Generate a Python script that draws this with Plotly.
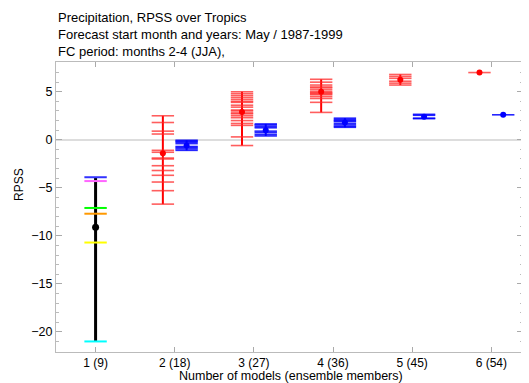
import plotly.graph_objects as go

# ---- data ----
n_models = [1, 2, 3, 4, 5, 6]
tick_labels = ["1 (9)", "2 (18)", "3 (27)", "4 (36)", "5 (45)", "6 (54)"]

# single models (1 model, 9 members)
single_vals = [-3.9, -4.3, -7.1, -7.7, -10.7, -21.0]
single_colors = ["#3333ff", "#ff66ff", "#00ff00", "#ff9900", "#ffff00", "#00ffff"]
single_mean = -9.1

# multi-model combinations (red)
red_vals = {
    2: [2.5, 1.8, 0.9, 0.6, -1.1, -1.3, -1.9, -2.0, -2.7, -3.2, -3.7, -4.4, -5.3, -6.7],
    3: [5.0, 4.8, 4.6, 4.4, 4.2, 4.0, 3.9, 3.6, 3.4, 3.1, 3.0, 2.8, 2.7, 2.5, 2.3, 2.0, 1.7, 1.5, 0.3, -0.6],
    4: [6.3, 6.0, 5.7, 5.5, 5.4, 5.2, 5.0, 4.9, 4.8, 4.7, 4.5, 4.3, 3.9, 2.85],
    5: [6.8, 6.6, 6.4, 6.1, 5.9, 5.7],
    6: [7.0],
}
red_mean = {2: -1.4, 3: 2.9, 4: 5.0, 5: 6.25, 6: 7.0}

# single model with same ensemble size (blue)
blue_vals = {
    2: [-0.05, -0.15, -0.25, -0.4, -0.7, -0.8, -0.95, -1.1],
    3: [1.65, 1.55, 1.4, 1.25, 0.9, 0.75, 0.55, 0.4],
    4: [2.25, 2.1, 2.0, 1.9, 1.7, 1.55, 1.4, 1.3],
    5: [2.65, 2.55, 2.25, 2.2],
    6: [2.6],
}
blue_mean = {2: -0.6, 3: 1.0, 4: 1.8, 5: 2.4, 6: 2.6}

RED_OFF = -0.15
BLUE_OFF = 0.15

fig = go.Figure()

# black: single models
fig.add_trace(go.Scatter(x=[1, 1], y=[min(single_vals), max(single_vals)], mode="lines",
                         line=dict(color="black", width=3), hoverinfo="skip", showlegend=False))
fig.add_trace(go.Scatter(x=[1] * len(single_vals), y=single_vals, mode="markers",
                         marker=dict(symbol="line-ew", size=16,
                                     line=dict(color=single_colors, width=2)),
                         showlegend=False))
fig.add_trace(go.Scatter(x=[1], y=[single_mean], mode="markers",
                         marker=dict(symbol="circle", size=7, color="black"), showlegend=False))


def add_group(vals, means, off, color, tick_color, lw):
    for n, v in vals.items():
        xx = n + off
        if len(v) > 1:
            fig.add_trace(go.Scatter(x=[xx, xx], y=[min(v), max(v)], mode="lines",
                                     line=dict(color=color, width=lw), hoverinfo="skip",
                                     showlegend=False))
        fig.add_trace(go.Scatter(x=[xx] * len(v), y=v, mode="markers",
                                 marker=dict(symbol="line-ew", size=16,
                                             line=dict(color=tick_color, width=1.6)),
                                 showlegend=False))
        fig.add_trace(go.Scatter(x=[xx], y=[means[n]], mode="markers",
                                 marker=dict(symbol="circle", size=6, color=color),
                                 showlegend=False))


add_group(red_vals, red_mean, RED_OFF, "#ff0000", "rgba(255,40,40,0.75)", 2)
add_group(blue_vals, blue_mean, BLUE_OFF, "#0000ff", "rgba(0,0,255,0.85)", 2)

# page body has an 8px margin; size the figure so the plot lands where the reference has it
OFF = 8
W, H = 529 - OFF, 383 - OFF
ML, MR, MT, MB = 56 - OFF, 6, 62 - OFF, 31

fig.update_layout(
    width=W, height=H,
    margin=dict(l=ML, r=MR, t=MT, b=MB),
    paper_bgcolor="white", plot_bgcolor="white",
    font=dict(family="Liberation Sans, Arial, sans-serif", size=12, color="black"),
    showlegend=False,
    xaxis=dict(range=[0.5, 6.4], tickvals=n_models, ticktext=tick_labels,
               ticks="inside", ticklen=5, tickcolor="#aaaaaa", mirror="ticks",
               showline=True, linecolor="#bbbbbb", linewidth=1, showgrid=False,
               zeroline=False, tickfont=dict(size=12)),
    yaxis=dict(range=[-22.1, 8.1], tickvals=[-20, -15, -10, -5, 0, 5],
               ticks="inside", ticklen=6, tickcolor="#aaaaaa", mirror="ticks",
               showline=True, linecolor="#bbbbbb", linewidth=1, showgrid=False,
               zeroline=True, zerolinecolor="#dddddd", zerolinewidth=1.5,
               minor=dict(dtick=1, ticks="inside", ticklen=3, tickcolor="#bbbbbb"),
               tickfont=dict(size=12.5)),
)

pw = W - ML - MR
ph = H - MT - MB


def ann(text, sx, sy, **kw):
    # screen pixel position -> paper coordinates
    return dict(text=text, x=(sx - 56) / pw, y=1 - (sy - 62) / ph, xref="paper", yref="paper",
                showarrow=False, **kw)


fig.update_layout(annotations=[
    ann("Precipitation, RPSS over Tropics<br>Forecast start month and years: May / 1987-1999<br>FC period: months 2-4 (JJA),",
        56, 8, align="left", xanchor="left", yanchor="top", font=dict(size=13)),
    ann("RPSS", 19, 185, textangle=-90, xanchor="center", yanchor="middle", font=dict(size=12)),
    ann("Number of models (ensemble members)", 291, 376, xanchor="center", yanchor="middle",
        font=dict(size=12.5)),
])

fig.write_html("out.html")
